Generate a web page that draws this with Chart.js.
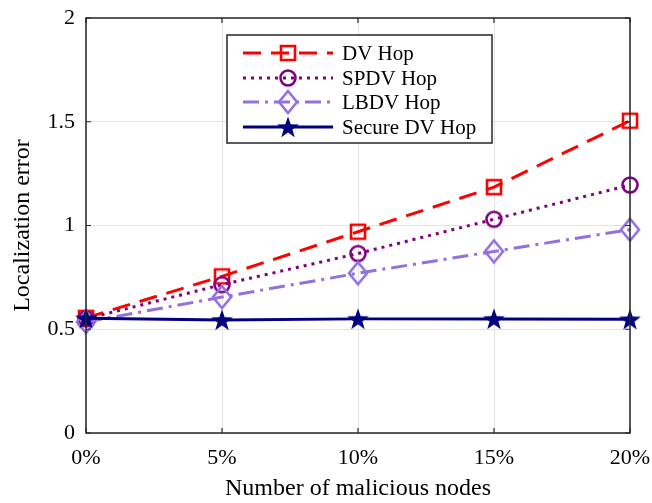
<!DOCTYPE html>
<html><head><meta charset="utf-8">
<script src="https://cdn.jsdelivr.net/npm/chart.js@4"></script>
<style>html,body{margin:0;padding:0;background:#fff}#wrap{width:652px;height:503px;position:relative}</style>
</head><body><div id="wrap"><canvas id="c" width="652" height="503"></canvas></div>
<script>
const categories = ['0%', '5%', '10%', '15%', '20%'];
const dvHop = [0.555, 0.755, 0.97, 1.185, 1.505];
const spdvHop = [0.55, 0.715, 0.865, 1.03, 1.195];
const lbdvHop = [0.535, 0.655, 0.77, 0.875, 0.98];
const secureDvHop = [0.553, 0.545, 0.55, 0.55, 0.548];
const yTicks = [0, 0.5, 1, 1.5, 2];
const seriesNames = ['DV Hop', 'SPDV Hop', 'LBDV Hop', 'Secure DV Hop'];

const FONT = '"Liberation Serif", "Times New Roman", serif';

function marker(kind, color) {
  const s = 28, m = s / 2;
  const c = document.createElement('canvas'); c.width = s; c.height = s;
  const g = c.getContext('2d');
  g.strokeStyle = color; g.fillStyle = color; g.lineWidth = 2.6;
  g.beginPath();
  if (kind === 'square') { g.rect(m - 7, m - 7, 14, 14); g.stroke(); }
  else if (kind === 'circle') { g.arc(m, m, 7.5, 0, Math.PI * 2); g.stroke(); }
  else if (kind === 'diamond') { g.moveTo(m, m - 11); g.lineTo(m + 9, m); g.lineTo(m, m + 11); g.lineTo(m - 9, m); g.closePath(); g.stroke(); }
  else if (kind === 'star') {
    for (let i = 0; i < 10; i++) {
      const r = i % 2 === 0 ? 11.5 : 4.6;
      const a = -Math.PI / 2 + i * Math.PI / 5;
      const x = m + r * Math.cos(a), y = m + 1 + r * Math.sin(a);
      if (i === 0) g.moveTo(x, y); else g.lineTo(x, y);
    }
    g.closePath(); g.fill();
  }
  return c;
}

const colors = ['#ff0000', '#800080', '#9370db', '#000080'];
const dashes = [[18, 10], [3, 5], [16, 6, 3, 6], []];
const kinds = ['square', 'circle', 'diamond', 'star'];
const values = [dvHop, spdvHop, lbdvHop, secureDvHop];

const datasets = values.map((v, i) => ({
  label: seriesNames[i],
  data: v,
  borderColor: colors[i],
  backgroundColor: colors[i],
  borderWidth: 3,
  borderDash: dashes[i],
  pointStyle: marker(kinds[i], colors[i]),
  pointRadius: 8,
  tension: 0,
  clip: false,
  order: 4 - i
}));

const boxPlugin = {
  id: 'box',
  afterDatasetsDraw(chart) {
    const { ctx, chartArea: a, scales: { x, y } } = chart;
    ctx.save();
    ctx.strokeStyle = '#262626'; ctx.lineWidth = 1.5;
    ctx.strokeRect(a.left, a.top, a.right - a.left, a.bottom - a.top);
    ctx.lineWidth = 1.2;
    ctx.beginPath();
    x.ticks.forEach((t, i) => {
      const px = x.getPixelForTick(i);
      ctx.moveTo(px, a.bottom); ctx.lineTo(px, a.bottom - 5);
      ctx.moveTo(px, a.top); ctx.lineTo(px, a.top + 5);
    });
    y.ticks.forEach((t, i) => {
      const py = y.getPixelForTick(i);
      ctx.moveTo(a.left, py); ctx.lineTo(a.left + 5, py);
      ctx.moveTo(a.right, py); ctx.lineTo(a.right - 5, py);
    });
    ctx.stroke();
    ctx.restore();
  },
  afterDraw(chart) {
    const { ctx } = chart;
    const bx = 227, by = 35, bw = 265, bh = 108;
    ctx.save();
    ctx.fillStyle = '#fff';
    ctx.fillRect(bx, by, bw, bh);
    ctx.strokeStyle = '#262626'; ctx.lineWidth = 1.5;
    ctx.strokeRect(bx, by, bw, bh);
    const rows = [53, 78, 102, 127];
    chart.data.datasets.forEach((d, i) => {
      const yy = rows[i];
      ctx.strokeStyle = d.borderColor; ctx.lineWidth = 3;
      ctx.setLineDash(d.borderDash);
      ctx.beginPath(); ctx.moveTo(243, yy); ctx.lineTo(333, yy); ctx.stroke();
      ctx.setLineDash([]);
      const img = d.pointStyle;
      ctx.drawImage(img, 288 - img.width / 2, yy - img.height / 2);
      ctx.fillStyle = '#000';
      ctx.font = '21px ' + FONT;
      ctx.textBaseline = 'middle';
      ctx.textAlign = 'left';
      ctx.fillText(d.label, 342, yy + 1);
    });
    ctx.restore();
  }
};

function zeroPad(s) { s.paddingLeft = 0; s.paddingRight = 0; s.paddingTop = 0; s.paddingBottom = 0; }

new Chart(document.getElementById('c'), {
  type: 'line',
  data: { labels: categories, datasets },
  options: {
    responsive: false,
    animation: false,
    devicePixelRatio: 1,
    layout: { padding: { top: 18, right: 22, left: 0, bottom: 0 } },
    plugins: { legend: { display: false }, tooltip: { enabled: false } },
    scales: {
      x: {
        type: 'category',
        offset: false,
        grid: { color: '#e3e3e3', lineWidth: 1, drawTicks: false },
        border: { display: false },
        ticks: { color: '#000', font: { family: FONT, size: 22 }, padding: 12, maxRotation: 0 },
        title: { display: true, text: 'Number of malicious nodes', color: '#000', font: { family: FONT, size: 24 }, padding: { top: 0, bottom: 0 } },
        afterFit(s) { s.height = 70; zeroPad(s); }
      },
      y: {
        min: 0, max: 2,
        afterBuildTicks(s) { s.ticks = yTicks.map(v => ({ value: v })); },
        grid: { color: '#e3e3e3', lineWidth: 1, drawTicks: false },
        border: { display: false },
        ticks: { color: '#000', font: { family: FONT, size: 22 }, padding: 11, callback: v => String(v) },
        title: { display: true, text: 'Localization error', color: '#000', font: { family: FONT, size: 24 }, padding: { top: 8, bottom: 0 } },
        afterFit(s) { s.width = 86; zeroPad(s); }
      }
    }
  },
  plugins: [boxPlugin]
});
</script>
</body></html>
